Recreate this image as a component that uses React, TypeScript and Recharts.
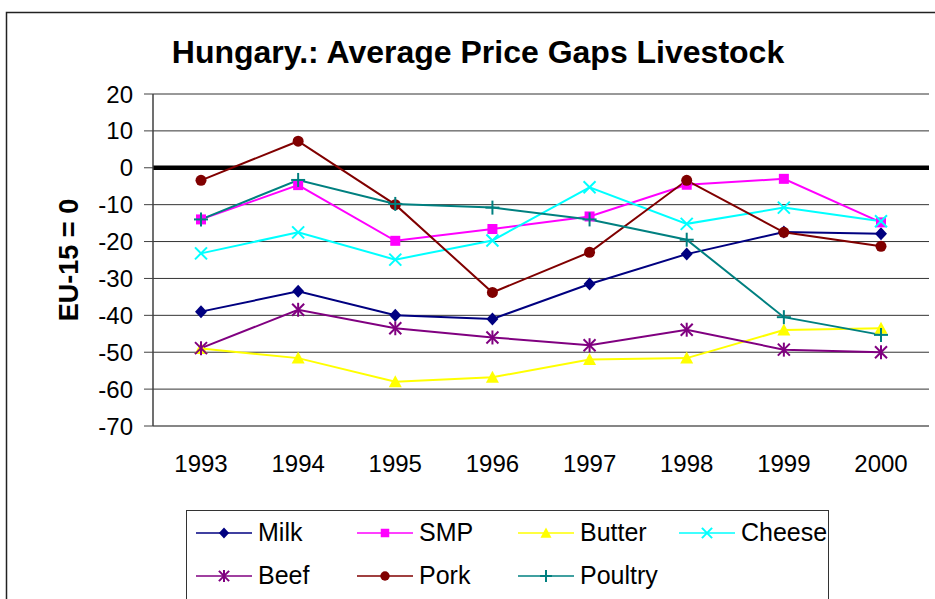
import React from "react";
import {
  LineChart, Line, XAxis, YAxis, CartesianGrid, ReferenceLine, Legend,
} from "recharts";

const years = ["1993", "1994", "1995", "1996", "1997", "1998", "1999", "2000"];
const milk = [-39, -33.5, -40, -41, -31.5, -23.4, -17.4, -17.9];
const smp = [-14, -4.7, -19.8, -16.6, -13.2, -4.6, -3, -14.8];
const butter = [-49, -51.6, -58, -56.8, -52, -51.6, -44, -43.5];
const cheese = [-23.2, -17.5, -24.9, -19.7, -5.3, -15.2, -10.8, -14.5];
const beef = [-48.9, -38.5, -43.5, -46, -48.1, -43.9, -49.3, -50];
const pork = [-3.4, 7.2, -10, -33.8, -22.9, -3.4, -17.5, -21.3];
const poultry = [-14, -3.3, -9.8, -10.8, -14, -19.5, -40.5, -45.3];
const yTicks = [20, 10, 0, -10, -20, -30, -40, -50, -60, -70];

const series = [
  { key: "milk", name: "Milk", color: "#000080", shape: "diamond", values: milk },
  { key: "smp", name: "SMP", color: "#FF00FF", shape: "square", values: smp },
  { key: "butter", name: "Butter", color: "#FFFF00", shape: "triangle", values: butter },
  { key: "cheese", name: "Cheese", color: "#00FFFF", shape: "x", values: cheese },
  { key: "beef", name: "Beef", color: "#800080", shape: "star", values: beef },
  { key: "pork", name: "Pork", color: "#800000", shape: "circle", values: pork },
  { key: "poultry", name: "Poultry", color: "#008080", shape: "plus", values: poultry },
];

const data = years.map((year, i) => {
  const row: Record<string, any> = { year };
  series.forEach((s) => { row[s.key] = s.values[i]; });
  return row;
});

const FONT = '"Liberation Sans", Arial, sans-serif';

function Marker({ shape, color, cx, cy, s = 1 }: any) {
  if (cx == null || cy == null) return null;
  switch (shape) {
    case "diamond":
      return <path d={`M${cx},${cy - 6.5 * s}L${cx + 6 * s},${cy}L${cx},${cy + 6.5 * s}L${cx - 6 * s},${cy}Z`} fill={color} />;
    case "square":
      return <rect x={cx - 5 * s} y={cy - 5 * s} width={10 * s} height={10 * s} fill={color} />;
    case "triangle":
      return <path d={`M${cx},${cy - 6.5 * s}L${cx + 6.5 * s},${cy + 5.5 * s}L${cx - 6.5 * s},${cy + 5.5 * s}Z`} fill={color} />;
    case "x":
      return (
        <g stroke={color} strokeWidth={2}>
          <line x1={cx - 6 * s} y1={cy - 6 * s} x2={cx + 6 * s} y2={cy + 6 * s} />
          <line x1={cx - 6 * s} y1={cy + 6 * s} x2={cx + 6 * s} y2={cy - 6 * s} />
        </g>
      );
    case "star":
      return (
        <g stroke={color} strokeWidth={2}>
          <line x1={cx - 6 * s} y1={cy - 6 * s} x2={cx + 6 * s} y2={cy + 6 * s} />
          <line x1={cx - 6 * s} y1={cy + 6 * s} x2={cx + 6 * s} y2={cy - 6 * s} />
          <line x1={cx} y1={cy - 7 * s} x2={cx} y2={cy + 7 * s} />
        </g>
      );
    case "circle":
      return <circle cx={cx} cy={cy} r={5.5 * s} fill={color} />;
    case "plus":
      return (
        <g stroke={color} strokeWidth={2}>
          <line x1={cx - 7 * s} y1={cy} x2={cx + 7 * s} y2={cy} />
          <line x1={cx} y1={cy - 7 * s} x2={cx} y2={cy + 7 * s} />
        </g>
      );
    default:
      return null;
  }
}

const order = (k: string) => series.findIndex((s) => s.key === k);

const renderLegend = ({ payload }: any) => {
  const items = [...(payload || [])].sort((a: any, b: any) => order(a.dataKey) - order(b.dataKey));
  return (
    <div
      style={{
        display: "grid",
        gridTemplateColumns: "repeat(4, 161px)",
        gridAutoRows: "43px",
        paddingLeft: 9,
        fontFamily: FONT,
        fontSize: 25,
        color: "#000",
      }}
    >
      {items.map((p: any) => {
        const s = series[order(p.dataKey)] || series[0];
        return (
          <div key={s.key} style={{ display: "flex", alignItems: "center" }}>
            <svg width={56} height={20} style={{ overflow: "visible" }}>
              <line x1={0} y1={10} x2={56} y2={10} stroke={s.color} strokeWidth={1.5} />
              <Marker shape={s.shape} color={s.color} cx={28} cy={10} s={0.85} />
            </svg>
            <span style={{ marginLeft: 6, lineHeight: "43px" }}>{p.value}</span>
          </div>
        );
      })}
    </div>
  );
};

const yLabel = (props: any) => {
  const { viewBox } = props;
  const x = viewBox.x + 78;
  const y = viewBox.y + viewBox.height / 2;
  return (
    <text
      x={x}
      y={y}
      transform={`rotate(-90, ${x}, ${y})`}
      textAnchor="middle"
      fontSize={27}
      fontWeight="bold"
      fill="#000"
      fontFamily={FONT}
    >
      EU-15 = 0
    </text>
  );
};

export default function App() {
  return (
    <div
      style={{
        position: "absolute", left: 0, top: 0, width: 935, height: 599,
        background: "#fff", overflow: "hidden", fontFamily: FONT,
      }}
    >
      <LineChart width={935} height={599} data={data} margin={{ top: 94, right: 6, bottom: 113, left: 0 }}>
        <CartesianGrid yAxisId="l" vertical={false} stroke="#333" strokeWidth={1} />
        <XAxis
          dataKey="year"
          padding={{ left: 48, right: 48 }}
          height={60}
          tickLine={false}
          tickSize={0}
          tickMargin={29}
          axisLine={{ stroke: "#808080", strokeWidth: 1.5 }}
          tick={{ fontSize: 24, fill: "#000", fontFamily: FONT }}
        />
        <YAxis
          yAxisId="l"
          width={153}
          domain={[-70, 20]}
          ticks={yTicks}
          interval={0}
          tickSize={9}
          tickMargin={11}
          axisLine={{ stroke: "#404040", strokeWidth: 1.5 }}
          tickLine={{ stroke: "#404040" }}
          tick={{ fontSize: 24, fill: "#000", fontFamily: FONT }}
          label={{ content: yLabel }}
        />
        <YAxis
          yAxisId="r"
          orientation="right"
          width={0}
          domain={[-70, 20]}
          tick={false}
          tickLine={false}
          axisLine={{ stroke: "#808080", strokeWidth: 1.5 }}
        />
        <ReferenceLine yAxisId="l" y={0} stroke="#000" strokeWidth={4.5} />
        {series.map((s) => (
          <Line
            key={s.key}
            yAxisId="l"
            dataKey={s.key}
            name={s.name}
            stroke={s.color}
            strokeWidth={2}
            isAnimationActive={false}
            dot={(p: any) => (
              <Marker key={`${s.key}-${p.index}`} shape={s.shape} color={s.color} cx={p.cx} cy={p.cy} />
            )}
            activeDot={false}
          />
        ))}
        <Legend
          layout="vertical"
          align="center"
          verticalAlign="middle"
          content={renderLegend}
          wrapperStyle={{
            left: 186, top: 510, width: 643, height: 92,
            border: "1.5px solid #333", boxSizing: "border-box", background: "#fff",
          }}
        />
      </LineChart>
      <svg
        width={935}
        height={599}
        style={{ position: "absolute", left: 0, top: 0, pointerEvents: "none" }}
      >
        <rect x={6.5} y={12.5} width={1000} height={1000} fill="none" stroke="#222" strokeWidth={1.5} />
        <text x={478} y={63} textAnchor="middle" fontSize={32} fontWeight="bold" fontFamily={FONT} fill="#000">
          Hungary.: Average Price Gaps Livestock
        </text>
      </svg>
    </div>
  );
}
